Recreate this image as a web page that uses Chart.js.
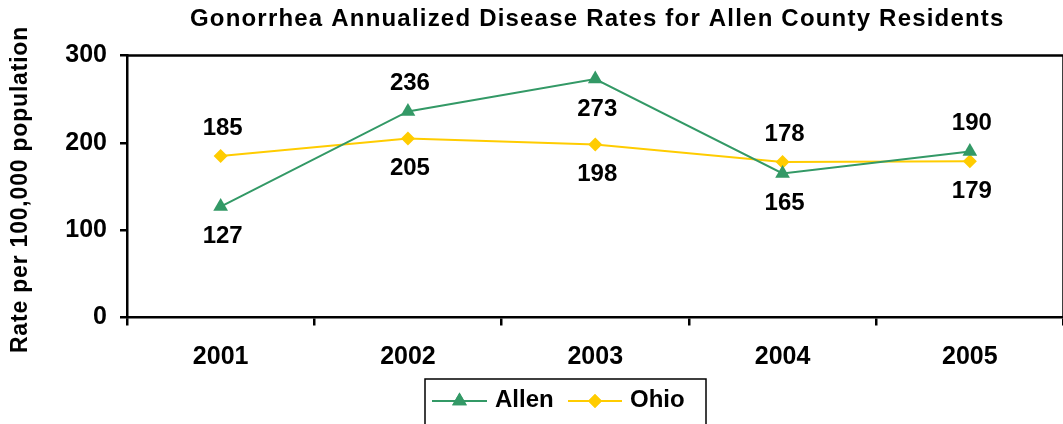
<!DOCTYPE html>
<html><head><meta charset="utf-8">
<script src="https://cdn.jsdelivr.net/npm/chart.js@4/dist/chart.umd.min.js"></script>
<style>
html,body{margin:0;padding:0;background:#fff;overflow:hidden;}
#wrap{width:1063px;height:424px;overflow:hidden;position:relative;}
canvas{display:block;}
</style>
</head><body><div id="wrap"><canvas id="c" width="1072" height="424"></canvas></div>
<script>
const years = ['2001','2002','2003','2004','2005'];
const allen = [127,236,273,165,190];
const ohio = [185,205,198,178,179];
const yTicks = [0,100,200,300];
const allenLabelPos = ['below','above','below','below','above'];
const ohioLabelPos = ['above','below','below','above','below'];
const seriesNames = ['Allen','Ohio'];
const chartTitle = 'Gonorrhea Annualized Disease Rates for Allen County Residents';
const yTitle = 'Rate per 100,000 population';

const GREEN = '#339966';
const GOLD = '#FFCC00';
const FONT = '"Liberation Sans", Arial, sans-serif';

const framePlugin = {
  id: 'frame',
  afterDraw(chart) {
    const {ctx, chartArea: a} = chart;
    ctx.save();
    ctx.strokeStyle = '#000';
    ctx.lineWidth = 2.5;
    ctx.beginPath();
    ctx.moveTo(a.left, a.top);
    ctx.lineTo(a.right, a.top);
    ctx.lineTo(a.right, a.bottom);
    ctx.stroke();
    ctx.restore();
  }
};

const titlesPlugin = {
  id: 'titles',
  afterDraw(chart) {
    const {ctx, chartArea: a} = chart;
    ctx.save();
    ctx.fillStyle = '#000';
    ctx.textAlign = 'center';
    ctx.textBaseline = 'middle';
    ctx.font = 'bold 24px ' + FONT;
    ctx.letterSpacing = '1.2px';
    ctx.fillText(chartTitle, (a.left + a.right) / 2 + 2, 19);
    ctx.restore();
    ctx.save();
    ctx.fillStyle = '#000';
    ctx.textAlign = 'center';
    ctx.textBaseline = 'middle';
    ctx.font = 'bold 23px ' + FONT;
    ctx.letterSpacing = '0.8px';
    ctx.translate(21, (a.top + a.bottom) / 2 + 3);
    ctx.rotate(-Math.PI / 2);
    ctx.fillText(yTitle, 0, 0);
    ctx.restore();
  }
};

const labelPlugin = {
  id: 'vlabels',
  afterDatasetsDraw(chart) {
    const ctx = chart.ctx;
    const posArrs = [allenLabelPos, ohioLabelPos];
    ctx.save();
    ctx.font = 'bold 24px ' + FONT;
    ctx.fillStyle = '#000';
    ctx.textAlign = 'center';
    ctx.textBaseline = 'middle';
    chart.data.datasets.forEach((ds, i) => {
      const meta = chart.getDatasetMeta(i);
      meta.data.forEach((pt, j) => {
        const off = posArrs[i][j] === 'above' ? -28 : 30;
        ctx.fillText(String(ds.data[j]), pt.x + 2, pt.y + off);
      });
    });
    ctx.restore();
  }
};

const legendPlugin = {
  id: 'boxlegend',
  afterDraw(chart) {
    const ctx = chart.ctx;
    ctx.save();
    ctx.strokeStyle = '#000';
    ctx.lineWidth = 1.5;
    ctx.strokeRect(425, 379, 281, 70);
    const items = [
      {x0: 432, x1: 487, tx: 495},
      {x0: 568, x1: 622, tx: 630}
    ];
    const y = 401;
    chart.data.datasets.forEach((ds, i) => {
      const it = items[i];
      ctx.strokeStyle = ds.borderColor;
      ctx.lineWidth = 2;
      ctx.beginPath();
      ctx.moveTo(it.x0, y);
      ctx.lineTo(it.x1, y);
      ctx.stroke();
      ctx.fillStyle = ds.pointBackgroundColor;
      Chart.helpers.drawPoint(ctx, {pointStyle: ds.pointStyle, radius: ds.pointRadius, borderWidth: 0, rotation: 0}, (it.x0 + it.x1) / 2, y);
      ctx.fill();
      ctx.fillStyle = '#000';
      ctx.font = 'bold 24px ' + FONT;
      ctx.textAlign = 'left';
      ctx.textBaseline = 'middle';
      ctx.fillText(seriesNames[i], it.tx, y - 1);
    });
    ctx.restore();
  }
};

new Chart(document.getElementById('c'), {
  type: 'line',
  data: {
    labels: years,
    datasets: [
      {label: seriesNames[0], data: allen, borderColor: GREEN, backgroundColor: GREEN,
       pointBackgroundColor: GREEN, pointBorderColor: GREEN, pointBorderWidth: 0,
       pointStyle: 'triangle', pointRadius: 8.5, borderWidth: 2, tension: 0},
      {label: seriesNames[1], data: ohio, borderColor: GOLD, backgroundColor: GOLD,
       pointBackgroundColor: GOLD, pointBorderColor: GOLD, pointBorderWidth: 0,
       pointStyle: 'rectRot', pointRadius: 7, borderWidth: 2, tension: 0}
    ]
  },
  options: {
    responsive: false,
    animation: false,
    devicePixelRatio: 1,
    layout: {padding: {left: 0, right: 2, top: 55.5, bottom: 0}},
    plugins: {
      legend: {display: false},
      tooltip: {enabled: false},
      title: {display: false}
    },
    scales: {
      x: {
        type: 'category',
        offset: true,
        grid: {display: true, drawOnChartArea: false, drawTicks: true, tickLength: 8, offset: true, color: '#000', lineWidth: 2.5},
        border: {display: true, color: '#000', width: 2.5},
        ticks: {color: '#000', font: {family: FONT, size: 25, weight: 'bold'}, padding: 17, maxRotation: 0, autoSkip: false},
        afterFit(s) { s.height = 106.5; }
      },
      y: {
        min: 0, max: 300,
        afterBuildTicks(s) { s.ticks = yTicks.map(v => ({value: v})); },
        grid: {display: true, drawOnChartArea: false, drawTicks: true, tickLength: 7, color: '#000', lineWidth: 2.5},
        border: {display: true, color: '#000', width: 2.5},
        ticks: {color: '#000', font: {family: FONT, size: 25, weight: 'bold'}, padding: 13},
        title: {display: false},
        afterFit(s) { s.width = 127; }
      }
    }
  },
  plugins: [framePlugin, labelPlugin, legendPlugin, titlesPlugin]
});
</script>
</body></html>
